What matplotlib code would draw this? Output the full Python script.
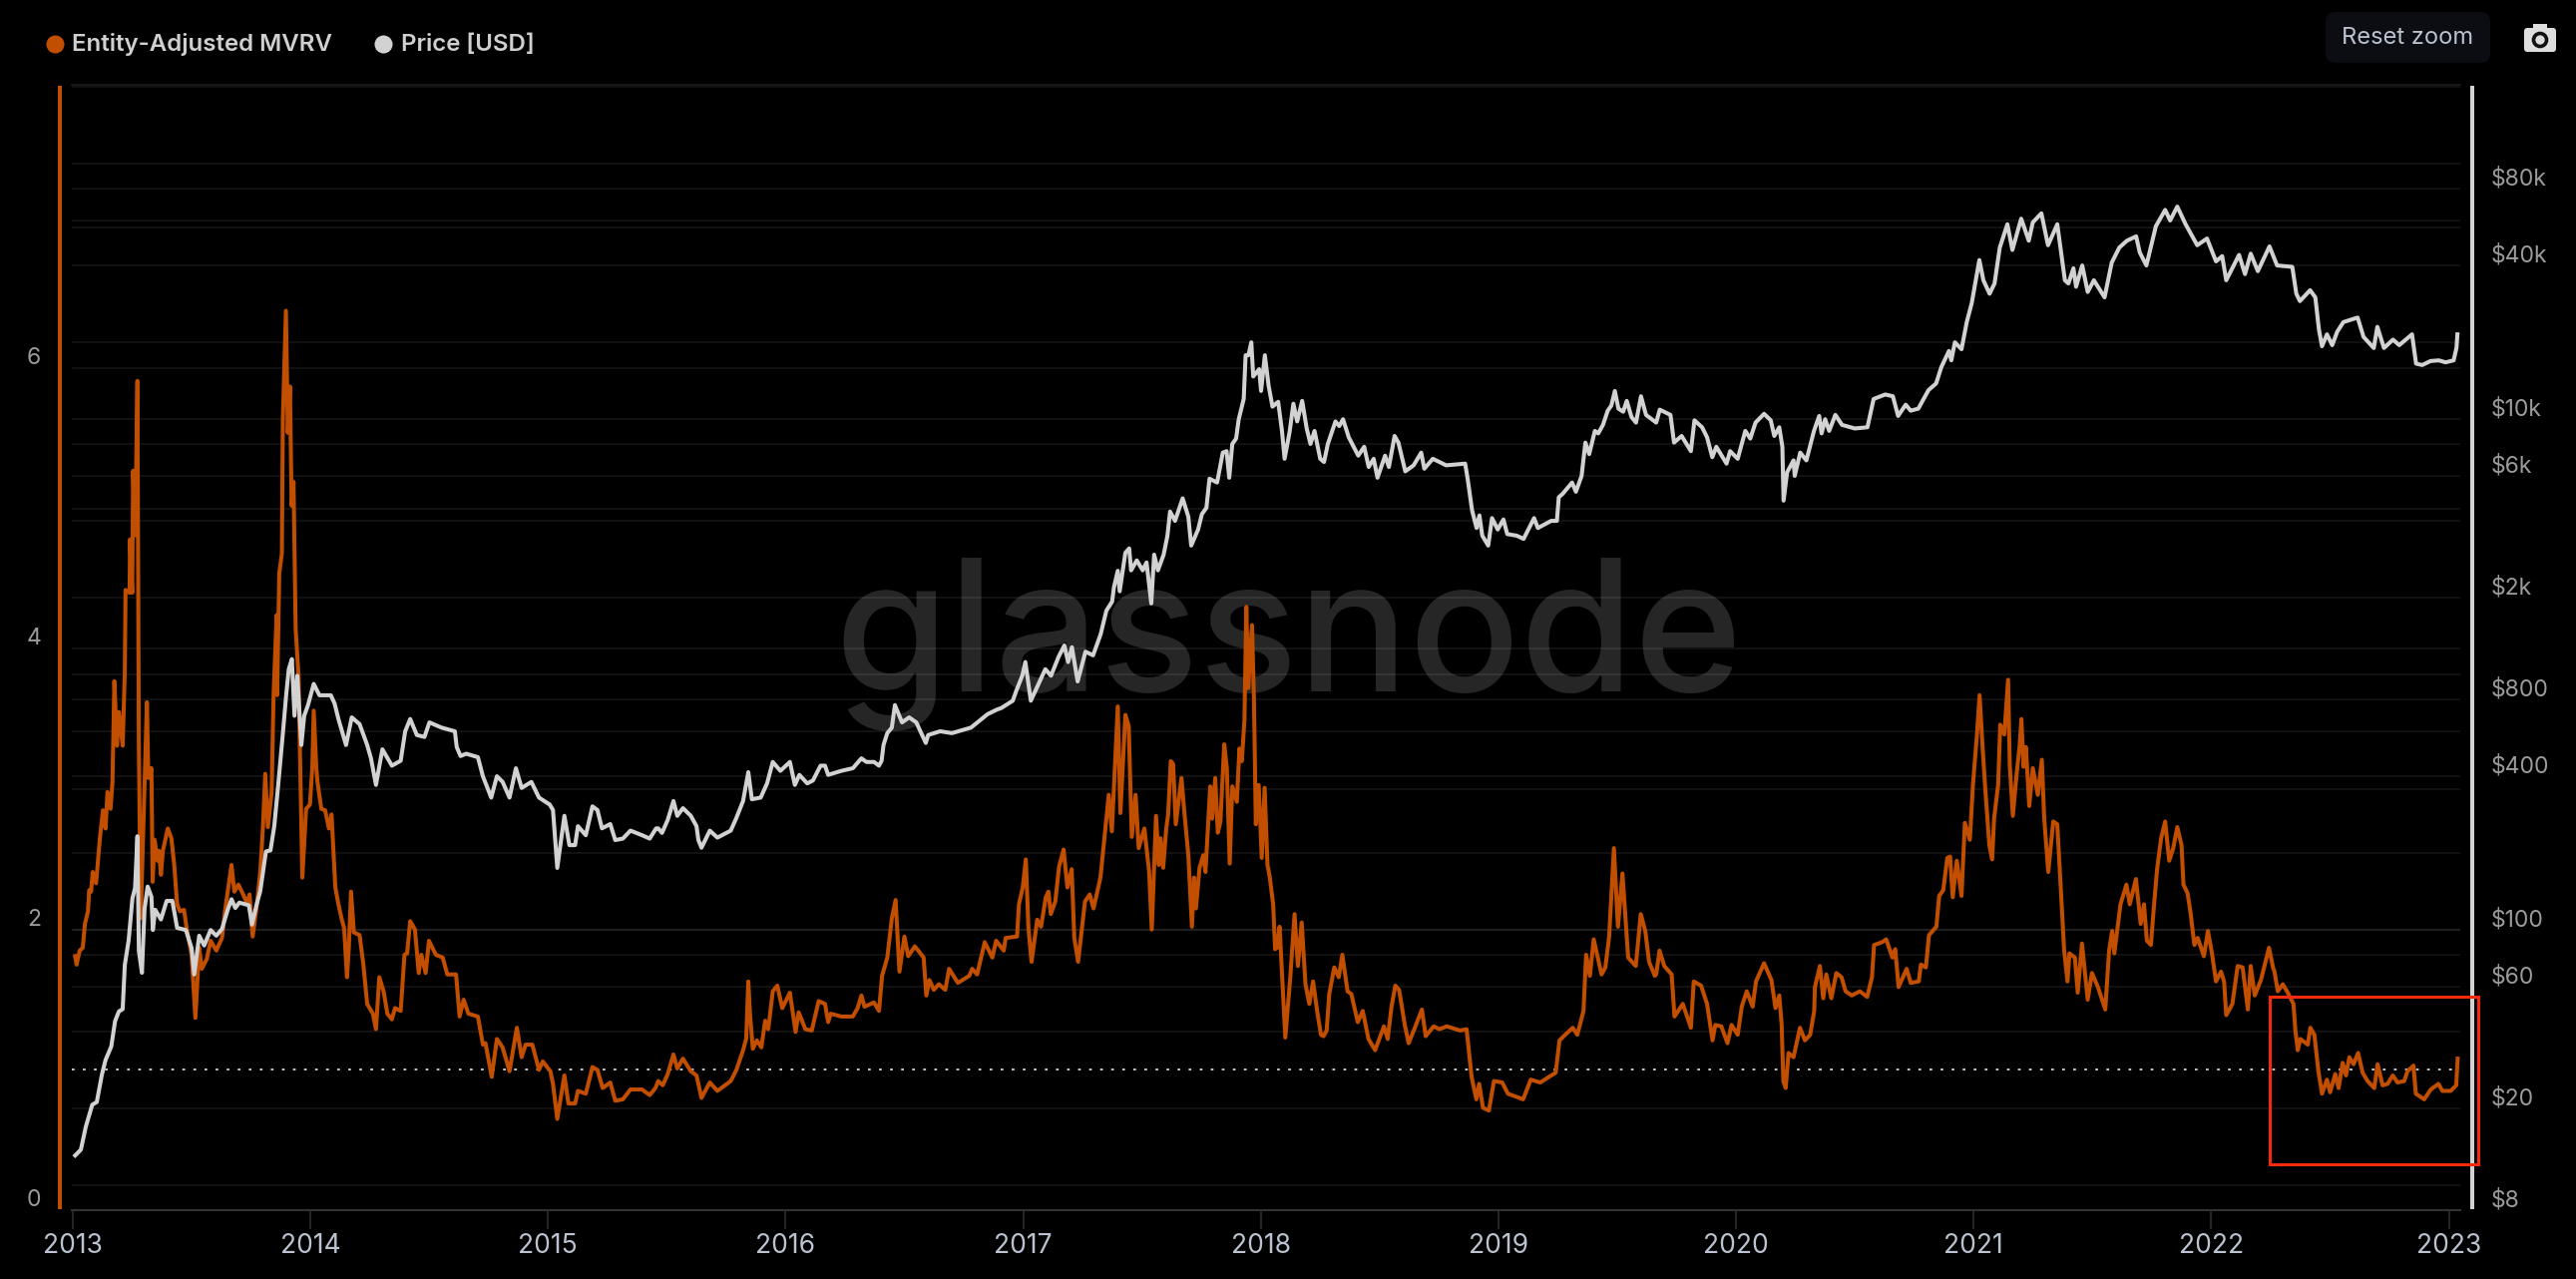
import matplotlib
matplotlib.use("Agg")
import matplotlib.pyplot as plt
from matplotlib.lines import Line2D
from matplotlib.patches import Circle, FancyBboxPatch, Rectangle

plt.rcParams['font.family'] = ['Inter', 'DejaVu Sans']

# entity-adjusted mvrv (decimal year / value)
mvrv_dates = [
    2013.010, 2013.016, 2013.029, 2013.042, 2013.051, 2013.064, 2013.069, 2013.077, 2013.084, 2013.098, 2013.114, 2013.127,
    2013.138, 2013.146, 2013.159, 2013.167, 2013.175, 2013.186, 2013.194, 2013.210, 2013.219, 2013.222, 2013.239, 2013.241,
    2013.250, 2013.254, 2013.263, 2013.272, 2013.278, 2013.286, 2013.312, 2013.318, 2013.331, 2013.336, 2013.344, 2013.357,
    2013.363, 2013.371, 2013.379, 2013.400, 2013.415, 2013.427, 2013.439, 2013.451, 2013.468, 2013.480, 2013.500, 2013.516,
    2013.532, 2013.543, 2013.564, 2013.580, 2013.604, 2013.628, 2013.639, 2013.652, 2013.668, 2013.680, 2013.697, 2013.717,
    2013.733, 2013.744, 2013.757, 2013.773, 2013.789, 2013.800, 2013.810, 2013.821, 2013.837, 2013.845, 2013.858, 2013.860,
    2013.869, 2013.880, 2013.884, 2013.897, 2013.905, 2013.914, 2013.921, 2013.929, 2013.938, 2013.950, 2013.966, 2013.982,
    2013.998, 2014.008, 2014.014, 2014.025, 2014.030, 2014.046, 2014.062, 2014.078, 2014.089, 2014.105, 2014.118, 2014.131,
    2014.142, 2014.154, 2014.162, 2014.171, 2014.183, 2014.207, 2014.223, 2014.239, 2014.263, 2014.276, 2014.290, 2014.308,
    2014.324, 2014.343, 2014.356, 2014.380, 2014.396, 2014.407, 2014.420, 2014.440, 2014.456, 2014.467, 2014.485, 2014.499,
    2014.528, 2014.557, 2014.576, 2014.613, 2014.628, 2014.645, 2014.665, 2014.705, 2014.726, 2014.737, 2014.763, 2014.785,
    2014.809, 2014.838, 2014.869, 2014.889, 2014.906, 2014.934, 2014.962, 2014.978, 2015.010, 2015.021, 2015.039, 2015.069,
    2015.086, 2015.114, 2015.126, 2015.159, 2015.187, 2015.208, 2015.230, 2015.262, 2015.283, 2015.315, 2015.347, 2015.396,
    2015.428, 2015.452,
    2015.464, 2015.483, 2015.504, 2015.528, 2015.544, 2015.568, 2015.601, 2015.625, 2015.646, 2015.681, 2015.713, 2015.769,
    2015.793, 2015.821, 2015.834, 2015.843, 2015.850, 2015.862, 2015.879, 2015.898, 2015.914, 2015.927, 2015.946, 2015.965,
    2015.986, 2016.018, 2016.042, 2016.055, 2016.083, 2016.110, 2016.139, 2016.166, 2016.179, 2016.190, 2016.235, 2016.283,
    2016.303, 2016.319, 2016.332, 2016.372, 2016.393, 2016.406, 2016.428, 2016.447, 2016.463, 2016.479, 2016.500, 2016.516,
    2016.544, 2016.581, 2016.592, 2016.605, 2016.624, 2016.645, 2016.672, 2016.688, 2016.725, 2016.773, 2016.785, 2016.806,
    2016.838, 2016.870, 2016.886, 2016.918, 2016.926, 2016.974, 2016.982, 2016.998, 2017.011, 2017.022, 2017.035, 2017.059,
    2017.075, 2017.095, 2017.106, 2017.116, 2017.135, 2017.151, 2017.170, 2017.186, 2017.204, 2017.215, 2017.231, 2017.260,
    2017.280, 2017.296, 2017.325, 2017.344, 2017.360, 2017.373,
    2017.398, 2017.409, 2017.430, 2017.444, 2017.457, 2017.473, 2017.486, 2017.510, 2017.530, 2017.541, 2017.559, 2017.571,
    2017.578, 2017.589, 2017.602, 2017.610, 2017.621, 2017.631, 2017.642, 2017.666, 2017.679, 2017.695, 2017.710, 2017.719,
    2017.727, 2017.742, 2017.758, 2017.767, 2017.787, 2017.795, 2017.808, 2017.819, 2017.830, 2017.846, 2017.857, 2017.869,
    2017.880, 2017.899, 2017.910, 2017.920, 2017.931, 2017.939, 2017.947, 2017.963, 2017.971, 2017.979, 2017.991, 2018.004,
    2018.016, 2018.028, 2018.037, 2018.052, 2018.060, 2018.068, 2018.079, 2018.092, 2018.103, 2018.124, 2018.142, 2018.156,
    2018.172, 2018.188, 2018.204, 2018.220, 2018.237, 2018.253, 2018.264, 2018.277, 2018.288, 2018.309, 2018.328, 2018.343,
    2018.365, 2018.381, 2018.408, 2018.429, 2018.453, 2018.481, 2018.518, 2018.534, 2018.550, 2018.566, 2018.582, 2018.606,
    2018.622, 2018.646, 2018.678, 2018.694, 2018.727, 2018.751, 2018.783, 2018.839, 2018.866, 2018.887, 2018.907, 2018.919,
    2018.935, 2018.960, 2018.981, 2019.016, 2019.040, 2019.104, 2019.136, 2019.176, 2019.241, 2019.257, 2019.281, 2019.313,
    2019.332, 2019.358, 2019.369, 2019.385, 2019.401, 2019.434, 2019.450, 2019.466, 2019.486, 2019.503, 2019.522, 2019.546,
    2019.578, 2019.599, 2019.618, 2019.634, 2019.658,
    2019.664, 2019.678, 2019.698, 2019.729, 2019.741, 2019.776, 2019.810, 2019.822, 2019.853, 2019.878, 2019.901, 2019.913,
    2019.938, 2019.964, 2019.981, 2020.007, 2020.024, 2020.045, 2020.070, 2020.084, 2020.118, 2020.149, 2020.166, 2020.182,
    2020.192, 2020.199, 2020.209, 2020.221, 2020.242, 2020.269, 2020.290, 2020.312, 2020.329, 2020.332, 2020.353, 2020.367,
    2020.380, 2020.401, 2020.422, 2020.444, 2020.461, 2020.487, 2020.521, 2020.552, 2020.572, 2020.581, 2020.615, 2020.632,
    2020.658, 2020.670, 2020.684, 2020.718, 2020.735, 2020.769, 2020.778, 2020.799, 2020.812, 2020.843, 2020.855, 2020.872,
    2020.889, 2020.901, 2020.912, 2020.929, 2020.949, 2020.963, 2020.984, 2020.997, 2021.014, 2021.025, 2021.038, 2021.049,
    2021.066, 2021.078, 2021.086, 2021.103, 2021.112, 2021.129, 2021.145, 2021.152, 2021.165, 2021.181, 2021.194, 2021.201,
    2021.210, 2021.220, 2021.234, 2021.249, 2021.270, 2021.287, 2021.297, 2021.314, 2021.335, 2021.352, 2021.366, 2021.381,
    2021.395, 2021.403, 2021.426, 2021.438, 2021.456, 2021.480, 2021.498, 2021.523, 2021.554, 2021.570, 2021.583, 2021.592,
    2021.618, 2021.643, 2021.657, 2021.683, 2021.703, 2021.717, 2021.729, 2021.746, 2021.758, 2021.772, 2021.789, 2021.806,
    2021.823, 2021.840, 2021.857, 2021.875, 2021.883, 2021.900, 2021.912, 2021.929, 2021.943, 2021.969, 2021.986, 2022.003,
    2022.020, 2022.041, 2022.054, 2022.063, 2022.089, 2022.111, 2022.132, 2022.154, 2022.166, 2022.183, 2022.209, 2022.243,
    2022.260,
    2022.266, 2022.280, 2022.301, 2022.322, 2022.346, 2022.354, 2022.364, 2022.375, 2022.406, 2022.417, 2022.434, 2022.451,
    2022.466, 2022.487, 2022.500, 2022.522, 2022.536, 2022.553, 2022.567, 2022.581, 2022.599, 2022.618, 2022.637, 2022.658,
    2022.686, 2022.700, 2022.721, 2022.742, 2022.764, 2022.784, 2022.812, 2022.826, 2022.851, 2022.861, 2022.896, 2022.924,
    2022.956, 2022.973, 2023.008, 2023.031, 2023.037,
]
mvrv_values = [
    1.81, 1.75, 1.85, 1.87, 2.04, 2.13, 2.28, 2.27, 2.41, 2.33, 2.65, 2.85,
    2.72, 2.98, 2.86, 3.05, 3.77, 3.31, 3.55, 3.31, 3.84, 4.42, 4.40, 4.78,
    4.40, 5.27, 4.81, 5.91, 3.31, 2.08, 3.62, 3.08, 3.15, 2.34, 2.64, 2.49,
    2.56, 2.39, 2.56, 2.72, 2.65, 2.46, 2.18, 2.13, 2.14, 2.00, 1.82, 1.37,
    1.87, 1.72, 1.79, 1.92, 1.85, 1.94, 2.11, 2.27, 2.46, 2.27, 2.32, 2.25,
    2.19, 2.25, 1.95, 2.15, 2.41, 2.72, 3.11, 2.73, 2.98, 3.67, 4.24, 3.67,
    4.54, 4.68, 5.63, 6.41, 5.54, 5.87, 5.02, 5.19, 4.14, 3.81, 2.37, 2.86,
    2.89, 3.15, 3.56, 3.15, 3.05, 2.86, 2.85, 2.72, 2.82, 2.30, 2.18, 2.08,
    2.01, 1.66, 1.88, 2.27, 1.98, 1.96, 1.75, 1.47, 1.40, 1.29, 1.66, 1.56,
    1.40, 1.36, 1.44, 1.42, 1.82, 1.83, 2.06, 2.00, 1.69, 1.82, 1.69, 1.92,
    1.82, 1.80, 1.68, 1.68, 1.38, 1.50, 1.40, 1.38, 1.18, 1.19, 0.95, 1.22,
    1.16, 0.99, 1.30, 1.09, 1.18, 1.18, 1.00, 1.06, 0.99, 0.90, 0.65, 0.96,
    0.76, 0.76, 0.85, 0.83, 1.02, 1.00, 0.87, 0.91, 0.78, 0.79, 0.86, 0.86,
    0.82, 0.87,
    0.92, 0.89, 0.97, 1.11, 1.01, 1.08, 0.99, 0.96, 0.80, 0.91, 0.85, 0.92,
    1.00, 1.14, 1.22, 1.63, 1.40, 1.15, 1.21, 1.16, 1.35, 1.29, 1.56, 1.60,
    1.44, 1.55, 1.27, 1.41, 1.29, 1.28, 1.49, 1.47, 1.34, 1.40, 1.38, 1.38,
    1.44, 1.53, 1.45, 1.48, 1.42, 1.67, 1.80, 2.08, 2.21, 1.70, 1.95, 1.81,
    1.88, 1.80, 1.53, 1.64, 1.57, 1.61, 1.57, 1.72, 1.62, 1.67, 1.72, 1.68,
    1.91, 1.80, 1.92, 1.85, 1.94, 1.95, 2.18, 2.30, 2.50, 2.01, 1.77, 2.07,
    2.02, 2.23, 2.27, 2.11, 2.20, 2.45, 2.57, 2.30, 2.43, 1.94, 1.77, 2.20,
    2.25, 2.15, 2.37, 2.69, 2.96, 2.70,
    3.59, 2.83, 3.53, 3.45, 2.66, 2.96, 2.58, 2.72, 2.41, 2.00, 2.81, 2.46,
    2.65, 2.44, 2.72, 2.82, 3.20, 3.18, 2.75, 3.08, 2.82, 2.53, 2.02, 2.37,
    2.15, 2.44, 2.53, 2.41, 3.02, 2.79, 3.08, 2.69, 2.77, 3.32, 3.15, 2.47,
    3.02, 2.91, 3.29, 3.20, 3.49, 4.30, 3.72, 4.17, 3.65, 2.75, 3.03, 2.51,
    3.01, 2.46, 2.38, 2.18, 1.86, 1.87, 2.02, 1.59, 1.23, 1.66, 2.11, 1.74,
    2.05, 1.61, 1.47, 1.63, 1.42, 1.25, 1.24, 1.28, 1.54, 1.73, 1.66, 1.82,
    1.56, 1.54, 1.34, 1.42, 1.22, 1.14, 1.31, 1.22, 1.45, 1.60, 1.57, 1.32,
    1.19, 1.29, 1.43, 1.24, 1.31, 1.29, 1.31, 1.28, 1.29, 0.95, 0.79, 0.90,
    0.73, 0.71, 0.92, 0.91, 0.83, 0.79, 0.93, 0.91, 0.98, 1.21, 1.25, 1.30,
    1.25, 1.42, 1.82, 1.67, 1.93, 1.68, 1.73, 1.95, 2.58, 2.02, 2.40, 1.80,
    1.74, 2.11, 1.99, 1.77, 1.67,
    1.68, 1.85, 1.74, 1.68, 1.38, 1.47, 1.30, 1.63, 1.60, 1.47, 1.21, 1.32,
    1.31, 1.19, 1.32, 1.25, 1.45, 1.56, 1.45, 1.63, 1.76, 1.64, 1.44, 1.53,
    1.32, 0.92, 0.87, 1.12, 1.09, 1.30, 1.21, 1.25, 1.42, 1.59, 1.74, 1.51,
    1.68, 1.51, 1.69, 1.66, 1.56, 1.53, 1.56, 1.52, 1.66, 1.89, 1.91, 1.93,
    1.80, 1.86, 1.59, 1.72, 1.62, 1.63, 1.75, 1.73, 1.96, 2.02, 2.24, 2.28,
    2.51, 2.52, 2.23, 2.49, 2.24, 2.76, 2.64, 3.03, 3.39, 3.67, 3.29, 3.00,
    2.60, 2.50, 2.79, 3.03, 3.46, 3.39, 3.78, 3.17, 2.81, 3.11, 3.32, 3.50,
    3.16, 3.30, 2.88, 3.15, 2.96, 3.21, 2.79, 2.41, 2.77, 2.75, 2.32, 1.85,
    1.63, 1.83, 1.80, 1.55, 1.90, 1.50, 1.69, 1.59, 1.43, 1.85, 1.99, 1.83,
    2.18, 2.32, 2.18, 2.36, 2.04, 2.18, 1.92, 1.89, 2.15, 2.43, 2.65, 2.77,
    2.49, 2.58, 2.73, 2.60, 2.32, 2.26, 2.13, 1.89, 1.94, 1.81, 1.99, 1.83,
    1.63, 1.70, 1.63, 1.39, 1.47, 1.74, 1.73, 1.43, 1.74, 1.53, 1.64, 1.87,
    1.73,
    1.70, 1.56, 1.61, 1.55, 1.47, 1.28, 1.14, 1.22, 1.18, 1.30, 1.25, 0.99,
    0.83, 0.93, 0.84, 0.97, 0.87, 1.05, 0.96, 1.09, 1.04, 1.12, 0.98, 0.92,
    0.87, 1.04, 0.89, 0.90, 0.96, 0.91, 0.92, 0.99, 1.03, 0.83, 0.79, 0.86,
    0.90, 0.85, 0.85, 0.89, 1.08,
]

# btc price in usd
price_dates = [
    2013.010, 2013.034, 2013.055, 2013.082, 2013.101, 2013.122, 2013.138, 2013.162, 2013.178, 2013.194, 2013.210, 2013.219,
    2013.235, 2013.251, 2013.262, 2013.272, 2013.278, 2013.291, 2013.302, 2013.315, 2013.331, 2013.337, 2013.347, 2013.371,
    2013.395, 2013.419, 2013.439, 2013.476, 2013.500, 2013.511, 2013.532, 2013.553, 2013.580, 2013.604, 2013.628, 2013.652,
    2013.668, 2013.684, 2013.701, 2013.741, 2013.754, 2013.773, 2013.789, 2013.813, 2013.832, 2013.848, 2013.864, 2013.885,
    2013.898, 2013.909, 2013.922, 2013.933, 2013.945, 2013.962, 2013.974, 2013.990, 2014.014, 2014.038, 2014.086, 2014.102,
    2014.118, 2014.150, 2014.174, 2014.207, 2014.239, 2014.255, 2014.276, 2014.303, 2014.343, 2014.380, 2014.399, 2014.420,
    2014.448, 2014.480, 2014.501, 2014.552, 2014.608, 2014.616, 2014.632, 2014.656, 2014.705, 2014.726, 2014.761, 2014.785,
    2014.809, 2014.838, 2014.865, 2014.889, 2014.930, 2014.962, 2015.007, 2015.021, 2015.039, 2015.069, 2015.090, 2015.114,
    2015.126, 2015.159, 2015.187, 2015.208, 2015.227, 2015.262, 2015.283, 2015.315, 2015.347, 2015.396, 2015.428, 2015.455,
    2015.464, 2015.480, 2015.504, 2015.528, 2015.544, 2015.568, 2015.601, 2015.625, 2015.633, 2015.646, 2015.681, 2015.713,
    2015.769, 2015.793, 2015.821, 2015.843, 2015.858, 2015.895, 2015.922, 2015.946, 2015.978, 2016.018, 2016.039, 2016.058,
    2016.091, 2016.115, 2016.147, 2016.166, 2016.179, 2016.235, 2016.283, 2016.319, 2016.340, 2016.372, 2016.393, 2016.404,
    2016.412, 2016.428, 2016.447, 2016.460, 2016.490, 2016.520, 2016.550, 2016.590, 2016.600, 2016.650, 2016.700, 2016.780,
    2016.850, 2016.890,
    2016.908, 2016.956, 2016.972, 2016.996, 2017.009, 2017.032, 2017.061, 2017.093, 2017.117, 2017.149, 2017.173, 2017.189,
    2017.205, 2017.229, 2017.262, 2017.294, 2017.326, 2017.350, 2017.374, 2017.382, 2017.398, 2017.406, 2017.430, 2017.446,
    2017.454, 2017.478, 2017.503, 2017.519, 2017.539, 2017.551, 2017.567, 2017.591, 2017.607, 2017.618, 2017.639, 2017.671,
    2017.695, 2017.707, 2017.736, 2017.752, 2017.771, 2017.784, 2017.816, 2017.840, 2017.856, 2017.867, 2017.880, 2017.896,
    2017.907, 2017.928, 2017.936, 2017.948, 2017.960, 2017.968, 2017.993, 2018.001, 2018.017, 2018.033, 2018.049, 2018.073,
    2018.089, 2018.100, 2018.121, 2018.137, 2018.153, 2018.174, 2018.193, 2018.209, 2018.226, 2018.250, 2018.266, 2018.282,
    2018.314, 2018.330, 2018.346, 2018.370, 2018.410, 2018.435, 2018.454, 2018.475, 2018.491, 2018.523, 2018.539, 2018.563,
    2018.579, 2018.608, 2018.643, 2018.675, 2018.688, 2018.724, 2018.780, 2018.860, 2018.871, 2018.889, 2018.908, 2018.920,
    2018.932, 2018.957, 2018.973, 2018.997, 2019.021, 2019.037, 2019.077, 2019.106, 2019.150, 2019.166, 2019.222, 2019.246,
    2019.254, 2019.270, 2019.310, 2019.326, 2019.350, 2019.366, 2019.382, 2019.406, 2019.420, 2019.440, 2019.460, 2019.475,
    2019.490, 2019.505, 2019.525, 2019.540, 2019.560,
    2019.579, 2019.600, 2019.621, 2019.664, 2019.679, 2019.724, 2019.739, 2019.771, 2019.810, 2019.825, 2019.857, 2019.878,
    2019.900, 2019.917, 2019.960, 2019.975, 2020.007, 2020.039, 2020.060, 2020.082, 2020.118, 2020.146, 2020.161, 2020.182,
    2020.195, 2020.200, 2020.215, 2020.242, 2020.247, 2020.270, 2020.296, 2020.328, 2020.350, 2020.360, 2020.375, 2020.392,
    2020.418, 2020.446, 2020.500, 2020.553, 2020.579, 2020.628, 2020.660, 2020.682, 2020.714, 2020.735, 2020.767, 2020.810,
    2020.842, 2020.864, 2020.896, 2020.906, 2020.921, 2020.949, 2020.971, 2020.992, 2021.009, 2021.024, 2021.041, 2021.067,
    2021.088, 2021.110, 2021.142, 2021.163, 2021.200, 2021.232, 2021.249, 2021.285, 2021.313, 2021.352, 2021.384, 2021.399,
    2021.420, 2021.431, 2021.457, 2021.480, 2021.506, 2021.551, 2021.581, 2021.613, 2021.645, 2021.684, 2021.699, 2021.727,
    2021.767, 2021.806, 2021.827, 2021.857, 2021.892, 2021.941, 2021.982, 2022.020, 2022.046, 2022.063, 2022.117, 2022.142,
    2022.166, 2022.196, 2022.245, 2022.277, 2022.341, 2022.358, 2022.373, 2022.416, 2022.438, 2022.453, 2022.466, 2022.487,
    2022.509, 2022.530, 2022.556, 2022.616, 2022.641, 2022.684, 2022.699, 2022.727, 2022.765, 2022.791, 2022.845, 2022.862,
    2022.888, 2022.923, 2022.958, 2022.986, 2023.020, 2023.032, 2023.036,
]
price_values = [
    13.1, 13.8, 17, 20.7, 21.2, 27, 31, 35, 44, 48, 49, 73,
    91, 133, 146, 233, 83, 68, 121, 148, 135, 100, 120, 110,
    130, 130, 102, 100, 85, 67, 95, 87, 100, 95, 101, 120,
    132, 122, 128, 125, 105, 125, 142, 203, 205, 255, 365, 600,
    830, 1050, 1150, 690, 990, 530, 690, 760, 920, 830, 830, 770,
    670, 530, 680, 640, 530, 470, 370, 510, 440, 460, 600, 670,
    580, 570, 650, 620, 600, 520, 480, 490, 475, 400, 330, 400,
    380, 330, 430, 360, 380, 330, 310, 295, 175, 280, 215, 215,
    255, 235, 305, 295, 250, 260, 225, 228, 245, 235, 228, 250,
    250, 240, 270, 320, 280, 300, 280, 255, 225, 210, 245, 230,
    245, 275, 320, 415, 325, 330, 375, 455, 420, 455, 370, 405,
    375, 385, 440, 440, 405, 420, 430, 470, 455, 455, 440, 460,
    530, 590, 620, 760, 650, 680, 650, 540, 580, 600, 590, 620,
    700, 730,
    740, 790, 870, 990, 1120, 790, 905, 1050, 990, 1175, 1300, 1120,
    1280, 940, 1230, 1190, 1440, 1780, 1930, 2200, 2550, 2120, 3000, 3120,
    2560, 2800, 2560, 2750, 1900, 2950, 2560, 2950, 3500, 4350, 4000, 4900,
    4150, 3200, 3700, 4250, 4500, 5850, 5650, 7400, 7500, 5900, 8000, 8400,
    10000, 12000, 17800, 17800, 20000, 14700, 15700, 12900, 17800, 13500, 11200, 11700,
    9000, 7000, 8900, 11500, 9800, 11800, 9200, 8000, 9000, 7000, 6800, 8000,
    9800, 9400, 10000, 8500, 7200, 7800, 6500, 7000, 5900, 7200, 6500, 8600,
    8100, 6250, 6600, 7400, 6400, 7000, 6600, 6700, 5800, 4400, 3750, 4200,
    3500, 3200, 4100, 3700, 4050, 3550, 3500, 3400, 4100, 3750, 4000, 4000,
    4950, 5100, 5650, 5200, 6000, 8100, 7300, 9000, 8800, 9500, 10800, 11300,
    12900, 11000, 10700, 11800, 10200,
    9700, 12300, 10400, 9700, 10900, 10400, 8100, 8600, 7500, 9900, 9300, 8500,
    7100, 7800, 6700, 7500, 7000, 9000, 8400, 9700, 10500, 9900, 8600, 9300,
    7800, 4800, 6200, 6900, 6000, 7400, 6900, 9000, 10300, 8800, 10000, 9000,
    10400, 9500, 9200, 9300, 12000, 12500, 12300, 10300, 11400, 10800, 11000, 13000,
    13800, 16000, 18500, 17000, 20000, 18800, 24000, 28500, 35000, 42000, 35000, 31000,
    34000, 47000, 58000, 46000, 61000, 50000, 59000, 64000, 48000, 58000, 35000, 34000,
    39000, 33000, 40000, 31500, 35000, 30000, 41000, 47000, 50000, 52000, 45000, 40000,
    57000, 66000, 60000, 68000, 58000, 48000, 51000, 41500, 43500, 35000, 44000, 37000,
    44500, 38000, 47500, 40000, 39500, 31000, 29000, 32000, 30000, 22500, 19300, 21500,
    19500, 22000, 24000, 25000, 21000, 19000, 23000, 19000, 20500, 19500, 21500, 16500,
    16300, 16900, 17000, 16700, 17000, 19000, 21500,
]

year_ticks = list(range(2013, 2024))
left_ticks = [0, 2, 4, 6]
left_grid = [2, 3, 4, 5, 6, 7]
right_ticks = [8, 20, 60, 100, 400, 800, 2000, 6000, 10000, 40000, 80000]
right_labels = ["$8", "$20", "$60", "$100", "$400", "$800", "$2k", "$6k", "$10k", "$40k", "$80k"]
right_grid = [10, 20, 40, 60, 80, 100, 200, 400, 600, 800, 1000, 2000, 4000, 6000, 8000,
              10000, 20000, 40000, 60000, 80000, 100000, 200000]

W, H = 2582, 1282
ORANGE = "#c24e00"
WHITE = "#d2d2d2"
GREY = "#9b9b9b"
BLUEGREY = "#bcc3d0"
LINE_W = 2.9

fig = plt.figure(figsize=(W / 100, H / 100), dpi=100, facecolor="black")
pos = [72 / W, (H - 1213) / H, (2466 - 72) / W, (1213 - 85) / H]
xlim = (2012.996, 2023.048)
left_lim = (0, 8.02)
right_lim = (8, 203900)

# bottom layer just for the watermark and all the grid lines
back = fig.add_axes(pos, facecolor="black")
back.set_xlim(xlim)
back.set_yscale("log")
back.set_ylim(right_lim)
back.set_yticks(right_grid)
back.minorticks_off()
back.tick_params(left=False, labelleft=False, bottom=False, labelbottom=False)
back.grid(True, axis="y", color="white", alpha=0.08, lw=1.3)
for s in back.spines.values():
    s.set_visible(False)
back.text(0.5095, 0.503, "glassnode", transform=back.transAxes, ha="center", va="center",
          fontsize=133, color="#262626", fontweight="medium", zorder=0)

ax = fig.add_axes(pos, facecolor="none")
ax.set_xlim(xlim)
ax.set_ylim(left_lim)
ax.set_yticks(left_grid)
ax.tick_params(axis="y", left=False, labelleft=False)
ax.grid(True, axis="y", color="white", alpha=0.08, lw=1.3)
ax.set_axisbelow(True)
ax.axhline(1, color="#c8c8c8", lw=1.4, dashes=(1.4, 4.3), zorder=1)
ax.plot(mvrv_dates, mvrv_values, color=ORANGE, lw=LINE_W, solid_joinstyle="round", zorder=2)
ax.set_xticks(year_ticks)
ax.set_xticklabels([str(y) for y in year_ticks], color=BLUEGREY, fontsize=19)
ax.tick_params(axis="x", length=13.5, width=1.3, color="#2a2a2a", pad=3)
for s in ["top", "left", "right"]:
    ax.spines[s].set_visible(False)
ax.spines["bottom"].set_color("#333333")
ax.spines["bottom"].set_linewidth(1.5)

ax2 = ax.twinx()
ax2.set_position(pos)
ax2.set_facecolor("none")
ax2.set_yscale("log")
ax2.set_ylim(right_lim)
ax2.plot(price_dates, price_values, color=WHITE, lw=LINE_W, solid_joinstyle="round")
ax2.minorticks_off()
ax2.set_yticks([])
ax2.tick_params(right=False, labelright=False)
for s in ax2.spines.values():
    s.set_visible(False)

# tick labels sit a bit above their grid line
for v in left_ticks:
    ax.annotate(str(v), xy=(0, v), xycoords=("axes fraction", "data"), xytext=(-31, 10),
                textcoords="offset pixels", ha="right", va="center", color=GREY, fontsize=16.5)
for v, lab in zip(right_ticks, right_labels):
    ax2.annotate(lab, xy=(1, v), xycoords=("axes fraction", "data"), xytext=(31, 10),
                 textcoords="offset pixels", ha="left", va="center", color=GREY, fontsize=16.5)

def fx(x):
    return x / W

def fy(y):
    return 1 - y / H

# top line of the plot area
fig.add_artist(Line2D([fx(72), fx(2466)], [fy(85), fy(85)], color="#1c1c1c", lw=1.3, transform=fig.transFigure))

# axis bars on both sides
fig.add_artist(Rectangle((fx(58), fy(1212)), 4 / W, 1126 / H, transform=fig.transFigure, color=ORANGE, lw=0))
fig.add_artist(Rectangle((fx(2476), fy(1212)), 4 / W, 1126 / H, transform=fig.transFigure, color=WHITE, lw=0))

# red box
fig.add_artist(Rectangle((fx(2275), fy(1167)), 209 / W, 168 / H, transform=fig.transFigure,
                         fill=False, edgecolor="#f52a0c", lw=2.2, zorder=5))

# legend
fig.add_artist(Line2D([fx(55)], [fy(44)], marker="o", ms=13, color=ORANGE, mew=0, transform=fig.transFigure))
fig.text(fx(72), fy(45), "Entity-Adjusted MVRV", ha="left", va="center", color="#d0d0d0",
         fontsize=17.3, fontweight="semibold")
fig.add_artist(Line2D([fx(384)], [fy(44)], marker="o", ms=13, color=WHITE, mew=0, transform=fig.transFigure))
fig.text(fx(402), fy(45), "Price [USD]", ha="left", va="center", color="#d0d0d0",
         fontsize=17.3, fontweight="semibold")

# toolbar top right
fig.add_artist(FancyBboxPatch((2339, H - 55), 149, 35, boxstyle="round,pad=8,rounding_size=10",
                              transform=None, facecolor="#0b0d12", edgecolor="none"))
fig.text(fx(2413), fy(38), "Reset zoom", ha="center", va="center", color="#bcc3d0", fontsize=17)
fig.add_artist(FancyBboxPatch((2532, H - 50), 28, 20, boxstyle="round,pad=2,rounding_size=3",
                              transform=None, facecolor="#dedede", edgecolor="none"))
fig.add_artist(Rectangle((2539, H - 30), 14, 6, transform=None, facecolor="#dedede", edgecolor="none"))
fig.add_artist(Circle((2546, H - 40), 6.5, transform=None, facecolor="#dedede", edgecolor="#111111", lw=2.6))

fig.savefig("out.png", dpi=100, facecolor="black")
